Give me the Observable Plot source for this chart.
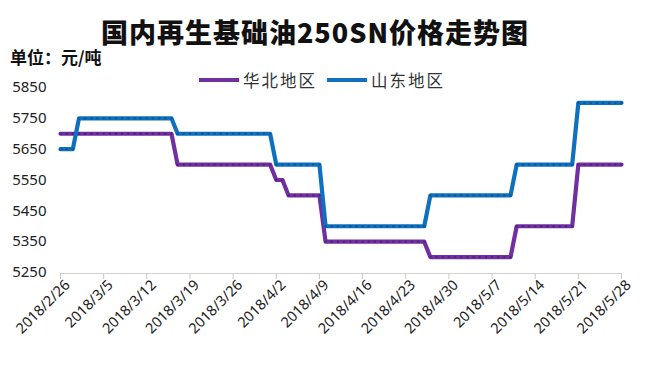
<!DOCTYPE html>
<html>
<head>
<meta charset="utf-8">
<script src="https://cdn.jsdelivr.net/npm/d3@7"></script>
<script src="https://cdn.jsdelivr.net/npm/@observablehq/plot@0.6"></script>
<style>
  html, body { margin: 0; padding: 0; background: #fff; }
  #wrap { position: relative; width: 650px; height: 379px; overflow: hidden; font-family: "Noto Sans CJK SC", "Noto Sans", sans-serif; }
  #title { position: absolute; left: 0; width: 650px; top: 12px; text-align: center; font-size: 27px; font-weight: 900; color: #111; letter-spacing: 1px; padding-right: 20px; box-sizing: border-box; }
  #unit { position: absolute; left: 10px; top: 44px; font-size: 17px; font-weight: 700; color: #111; }
  #legend { position: absolute; left: 199px; top: 68px; font-size: 16.5px; color: #333; display: flex; align-items: center; letter-spacing: 2px; }
  .sw { display: inline-block; width: 40px; height: 4px; margin-right: 4px; }
  .item { display: flex; align-items: center; margin-right: 10px; }
  #chart { position: absolute; left: 0; top: 0; }
</style>
</head>
<body>
<div id="wrap">
  <div id="chart"></div>
  <div id="title">国内再生基础油250SN价格走势图</div>
  <div id="unit">单位：元/吨</div>
  <div id="legend"></div>
</div>
<script>
// Series names and colours
const seriesNames = ["华北地区", "山东地区"];
const seriesColors = ["#7030A0", "#0E70BE"];

// Daily data from 2018/2/26 to 2018/5/28
const startDate = "2018-02-26";
const endDate = "2018-05-28";

// 华北地区 daily prices (元/吨)
const huabei = [
  5700,5700,5700,5700,5700,5700,5700,5700,5700,5700,5700,5700,5700,5700,5700,5700,5700,5700,5700,
  5600,5600,5600,5600,5600,5600,5600,5600,5600,5600,5600,5600,5600,5600,5600,5600,
  5550,5550,
  5500,5500,5500,5500,5500,5500,
  5350,5350,5350,5350,5350,5350,5350,5350,5350,5350,5350,5350,5350,5350,5350,5350,5350,
  5300,5300,5300,5300,5300,5300,5300,5300,5300,5300,5300,5300,5300,5300,
  5400,5400,5400,5400,5400,5400,5400,5400,5400,5400,
  5600,5600,5600,5600,5600,5600,5600,5600
];

// 山东地区 daily prices (元/吨)
const shandong = [
  5650,5650,5650,
  5750,5750,5750,5750,5750,5750,5750,5750,5750,5750,5750,5750,5750,5750,5750,5750,
  5700,5700,5700,5700,5700,5700,5700,5700,5700,5700,5700,5700,5700,5700,5700,5700,
  5600,5600,5600,5600,5600,5600,5600,5600,
  5400,5400,5400,5400,5400,5400,5400,5400,5400,5400,5400,5400,5400,5400,5400,5400,5400,
  5500,5500,5500,5500,5500,5500,5500,5500,5500,5500,5500,5500,5500,5500,
  5600,5600,5600,5600,5600,5600,5600,5600,5600,5600,
  5800,5800,5800,5800,5800,5800,5800,5800
];

// Axis ticks
const xTickLabels = ["2018/2/26","2018/3/5","2018/3/12","2018/3/19","2018/3/26","2018/4/2","2018/4/9",
  "2018/4/16","2018/4/23","2018/4/30","2018/5/7","2018/5/14","2018/5/21","2018/5/28"];
const yTicks = [5250, 5350, 5450, 5550, 5650, 5750, 5850];

const parseLabel = s => { const [y, m, d] = s.split("/").map(Number); return new Date(Date.UTC(y, m - 1, d)); };
const start = new Date(startDate + "T00:00:00Z");
const end = new Date(endDate + "T00:00:00Z");
const days = d3.utcDay.range(start, d3.utcDay.offset(end, 1));

const rows = [];
[huabei, shandong].forEach((vals, i) => {
  vals.forEach((v, k) => rows.push({date: days[k], value: v, series: seriesNames[i]}));
});

const tickDates = xTickLabels.map(parseLabel);
const fmt = d => `${d.getUTCFullYear()}/${d.getUTCMonth() + 1}/${d.getUTCDate()}`;
const dark = {"华北地区": "#55207f", "山东地区": "#0a5896"};

const chart = Plot.plot({
  width: 650,
  height: 379,
  marginLeft: 60,
  marginRight: 29,
  marginTop: 87,
  marginBottom: 107,
  style: {fontFamily: "'Noto Sans', 'Liberation Sans', sans-serif", background: "transparent"},
  x: {type: "utc", domain: [start, end]},
  y: {domain: [5250, 5850]},
  color: {domain: seriesNames, range: seriesColors},
  marks: [
    Plot.ruleY([5250], {stroke: "#d0d0d0", strokeWidth: 1, dy: 1}),
    Plot.axisY({ticks: yTicks, tickFormat: d => String(d), tickSize: 0, tickPadding: 14, label: null, fontSize: 15, fill: "#222"}),
    Plot.axisX({ticks: tickDates, tickFormat: () => "", tickSize: 6, label: null, stroke: "#c8c8c8", dy: 1}),
    Plot.axisX({ticks: tickDates, tickFormat: fmt, tickRotate: -45, tickSize: 0, tickPadding: 10,
      label: null, fontSize: 14.5, fill: "#222", dx: 7, dy: 0}),
    Plot.line(rows, {x: "date", y: "value", z: "series", stroke: "series", strokeWidth: 4.2, curve: "linear"}),
    Plot.dot(rows, {x: "date", y: "value", r: 1.2, fill: d => dark[d.series], stroke: "none"})
  ]
});
document.getElementById("chart").appendChild(chart);

// Legend
const leg = document.getElementById("legend");
seriesNames.forEach((n, i) => {
  const it = document.createElement("div");
  it.className = "item";
  const sw = document.createElement("span");
  sw.className = "sw";
  sw.style.background = seriesColors[i];
  const tx = document.createElement("span");
  tx.textContent = n;
  it.appendChild(sw); it.appendChild(tx);
  leg.appendChild(it);
});
</script>
</body>
</html>
